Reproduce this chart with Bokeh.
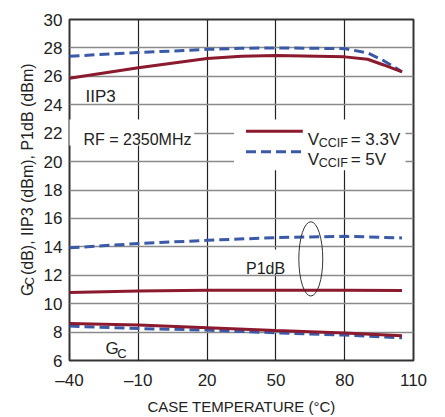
import math
from bokeh.plotting import figure
from bokeh.layouts import row
from bokeh.models import Label, BoxAnnotation, FixedTicker, Range1d
from bokeh.core.properties import value
from bokeh.embed import file_html
from bokeh.resources import INLINE

# ---- data ----
temp = [-40, -10, 20, 50, 80, 105]
iip3_temp = [-40, -10, 20, 35, 50, 80, 90, 97, 105]
iip3_33 = [25.86, 26.6, 27.26, 27.42, 27.47, 27.37, 27.2, 26.8, 26.32]
iip3_5 = [27.42, 27.67, 27.9, 27.97, 28.0, 27.95, 27.65, 27.1, 26.32]
p1db_33 = [10.78, 10.9, 10.95, 10.95, 10.95, 10.93]
p1db_5 = [13.93, 14.23, 14.46, 14.65, 14.74, 14.63]
gc_33 = [8.6, 8.49, 8.3, 8.11, 7.93, 7.74]
gc_5 = [8.42, 8.25, 8.14, 7.95, 7.79, 7.6]

x_ticks = [-40, -10, 20, 50, 80, 110]
y_ticks = [6, 8, 10, 12, 14, 16, 18, 20, 22, 24, 26, 28, 30]
x_tick_labels = {-40: "\u201340", -10: "\u201310"}

RED = "#8c1a2e"
BLUE = "#3a5aa8"
FONT = "Liberation Sans"
TXT = "#222222"

H = 417
LW = 40                      # width of the side strip holding the y title
W = 397
BL, BR, BT, BB = 28, 24, 19, 54

# ---- side strip with the rotated y-axis title ----
side = figure(width=LW, height=H, output_backend="svg", toolbar_location=None,
              title=None, x_axis_location=None, y_axis_location=None,
              x_range=Range1d(0, LW), y_range=Range1d(0, H),
              min_border_left=0, min_border_right=0, min_border_top=0, min_border_bottom=0)
side.grid.visible = False
side.outline_line_color = None
side.background_fill_color = "white"
side.border_fill_color = "white"
A = math.pi / 2
SHIFT = 25
def stext(px, py, t, size):
    side.text(x=[px], y=[H - py - SHIFT], text=[t], angle=A, text_font=value(FONT),
              text_font_size=f"{size}px", text_color=TXT,
              text_align="left", text_baseline="alphabetic")
stext(26.7, 313, "G", 16)
stext(29.5, 300.6, "C", 12)
stext(26.7, 287.5, "(dB), IIP3 (dBm), P1dB (dBm)", 16)

# ---- main plot ----
p = figure(width=W, height=H, output_backend="svg", toolbar_location=None,
           x_range=Range1d(-40, 110), y_range=Range1d(6, 30),
           min_border_left=BL, min_border_right=BR, min_border_top=BT, min_border_bottom=BB)
p.background_fill_color = "white"
p.border_fill_color = "white"
p.outline_line_color = "#333333"
p.outline_line_width = 2

# frame pixel geometry (page coords) -> data helpers for annotation placement
FX0, FX1 = LW + BL, LW + W - BR
FY0, FY1 = BT, H - BB
def dx(px):
    return -40 + (px - FX0) * 150.0 / (FX1 - FX0)
def dy(py):
    return 30 - (py - FY0) * 24.0 / (FY1 - FY0)
def pxw(w):
    return w * 150.0 / (FX1 - FX0)
def pyh(h):
    return h * 24.0 / (FY1 - FY0)

p.xaxis.ticker = FixedTicker(ticks=x_ticks)
p.yaxis.ticker = FixedTicker(ticks=y_ticks)
p.xaxis.major_label_overrides = x_tick_labels
for ax in (p.xaxis, p.yaxis):
    ax.axis_line_color = None
    ax.major_tick_line_color = None
    ax.minor_tick_line_color = None
    ax.major_tick_out = 0
    ax.major_tick_in = 0
    ax.major_label_text_font = FONT
    ax.major_label_text_font_size = "17px"
    ax.major_label_text_color = TXT
p.yaxis.major_label_standoff = 7
p.xaxis.major_label_standoff = 10
p.xaxis.axis_label = "CASE TEMPERATURE (\u00b0C)"
p.xaxis.axis_label_text_font = FONT
p.xaxis.axis_label_text_font_size = "15px"
p.xaxis.axis_label_text_font_style = "normal"
p.xaxis.axis_label_text_color = TXT
p.xaxis.axis_label_standoff = 5

p.xgrid.grid_line_color = "#222222"
p.xgrid.grid_line_width = 1.2
p.ygrid.grid_line_color = "#8a8a8a"
p.ygrid.grid_line_width = 1.5

# white boxes behind the in-plot texts
for (l, r, t, b) in [(67, 193, 120, 146), (233, 405, 120, 171), (244, 285, 251, 275)]:
    p.add_layout(BoxAnnotation(left=dx(l), right=dx(r), top=dy(t), bottom=dy(b),
                               fill_color="white", fill_alpha=1.0, line_color=None,
                               level="underlay"))

# curves
p.line(iip3_temp, iip3_5, line_color=BLUE, line_width=3, line_dash="10 5")
p.line(iip3_temp, iip3_33, line_color=RED, line_width=3)
p.line(temp, p1db_5, line_color=BLUE, line_width=3, line_dash="10 5")
p.line(temp, p1db_33, line_color=RED, line_width=3)
p.line(temp, gc_5, line_color=BLUE, line_width=3, line_dash="10 5")
p.line(temp, gc_33, line_color=RED, line_width=3)

# ellipse around P1dB curves
p.ellipse(x=[dx(310)], y=[dy(260.5)], width=[pxw(24)], height=[pyh(75)],
          fill_color=None, line_color="#333333", line_width=1)

def lab(px, py, text, size, align="left", baseline="alphabetic", color=TXT):
    p.add_layout(Label(x=dx(px), y=dy(py), text=text, text_font=FONT,
                       text_font_size=f"{size}px", text_align=align,
                       text_baseline=baseline, text_color=color))

lab(84, 97, "IIP3", 17)
lab(245, 270, "P1dB", 16)
lab(104, 351, "G", 17)
lab(116, 356, "C", 13)
lab(82, 140, "RF = 2350MHz", 16)

# legend
p.line([dx(245), dx(302)], [dy(131.7), dy(131.7)], line_color=RED, line_width=3)
p.line([dx(245), dx(302)], [dy(152.3), dy(152.3)], line_color=BLUE, line_width=3, line_dash="10 5")
lab(307, 140, "V", 17)
lab(318, 143.5, "CCIF", 12.5)
lab(350, 140, "= 3.3V", 17)
lab(307, 160.7, "V", 17)
lab(318, 164, "CCIF", 12.5)
lab(350, 160.7, "= 5V", 17)

layout = row(side, p)
open("out.html", "w").write(file_html(layout, INLINE))
